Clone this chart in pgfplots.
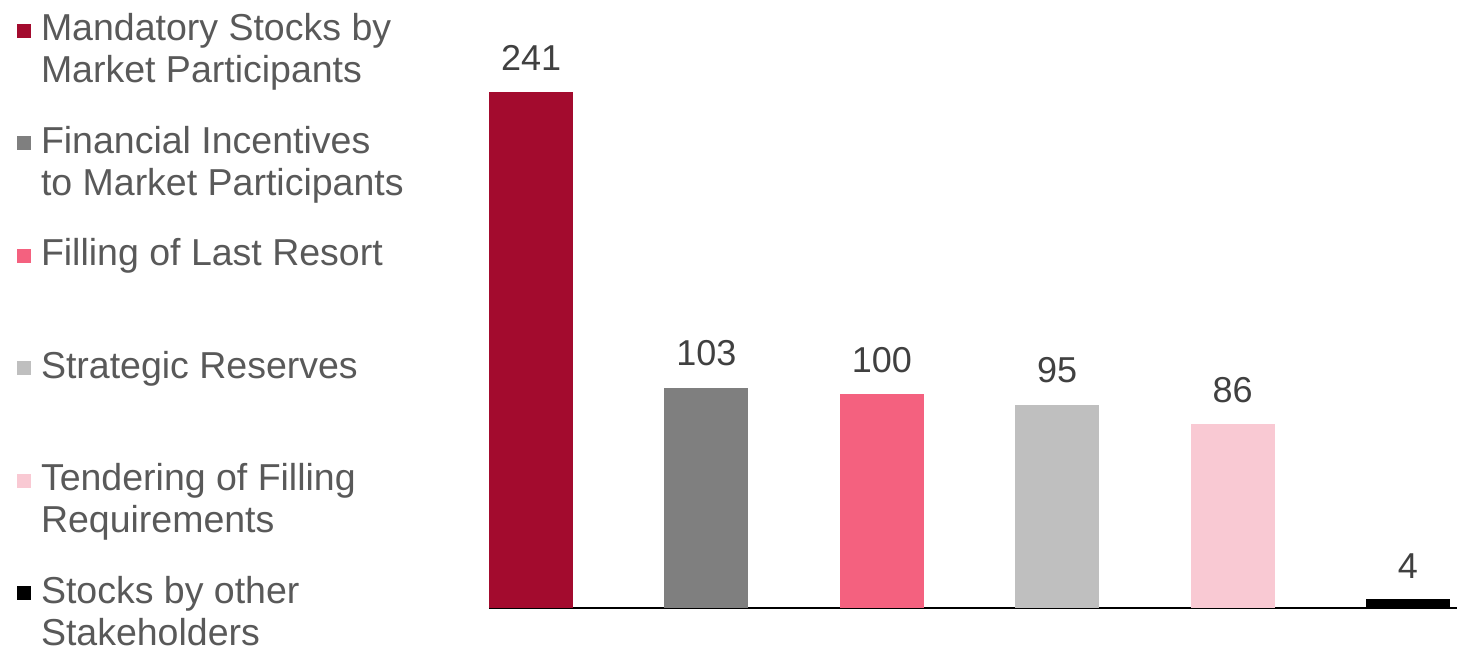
\documentclass[border=0pt]{standalone}
\usepackage{fontspec}
\setmainfont{Liberation Sans}
\usepackage{pgfplots}
\pgfplotsset{compat=1.18}
\definecolor{c1}{HTML}{A30B2E}
\definecolor{c2}{HTML}{7F7F7F}
\definecolor{c3}{HTML}{F4617F}
\definecolor{c4}{HTML}{BFBFBF}
\definecolor{c5}{HTML}{F9C9D3}
\definecolor{c6}{HTML}{000000}
\definecolor{legendgray}{HTML}{595959}
\definecolor{labelgray}{HTML}{404040}
\newcommand{\lentry}[1]{\parbox[t]{200pt}{\strut #1}}
\begin{document}
\begin{tikzpicture}
\path[use as bounding box] (0,0) rectangle (728.5pt,324pt);
\begin{axis}[
  at={(244.5pt,20pt)}, anchor=south west,
  scale only axis, width=484pt, height=278.2pt,
  xmin=-0.24, xmax=5.28, ymin=0, ymax=260,
  hide y axis,
  axis x line*=bottom,
  x axis line style={black, line width=1pt, -},
  xtick=\empty,
  clip=false,
  /pgf/number format/assume math mode=true,
  nodes near coords,
  every node near coord/.append style={font=\fontsize{18}{21}\selectfont, text=labelgray, anchor=south, inner sep=0pt, yshift=10.5pt},
  legend image code/.code={\fill[#1] (0pt,1.5pt) rectangle (7pt,8.5pt);},
  legend style={draw=none, fill=none, inner sep=0pt, outer sep=0pt,
    row sep=40.05pt, column sep=5pt,
    font=\fontsize{18.75}{21}\selectfont,
    nodes={inner sep=0pt, text=legendgray},
    cells={anchor=base west},
    at={(-0.48760,1.0719)}, anchor=north west},
]
\addplot[ybar, bar width=42pt, bar shift=0pt, fill=c1, draw=none] coordinates {(0,241)};
\addlegendentry{\lentry{Mandatory Stocks by\newline Market Participants}}
\addplot[ybar, bar width=42pt, bar shift=0pt, fill=c2, draw=none] coordinates {(1,103)};
\addlegendentry{\lentry{Financial Incentives\newline to Market Participants}}
\addplot[ybar, bar width=42pt, bar shift=0pt, fill=c3, draw=none] coordinates {(2,100)};
\addlegendentry{\lentry{Filling of Last Resort}}
\addplot[ybar, bar width=42pt, bar shift=0pt, fill=c4, draw=none] coordinates {(3,95)};
\addlegendentry{\lentry{Strategic Reserves}}
\addplot[ybar, bar width=42pt, bar shift=0pt, fill=c5, draw=none] coordinates {(4,86)};
\addlegendentry{\lentry{Tendering of Filling\newline Requirements}}
\addplot[ybar, bar width=42pt, bar shift=0pt, fill=c6, draw=none] coordinates {(5,4)};
\addlegendentry{\lentry{Stocks by other\newline Stakeholders}}
\end{axis}
\end{tikzpicture}
\end{document}
